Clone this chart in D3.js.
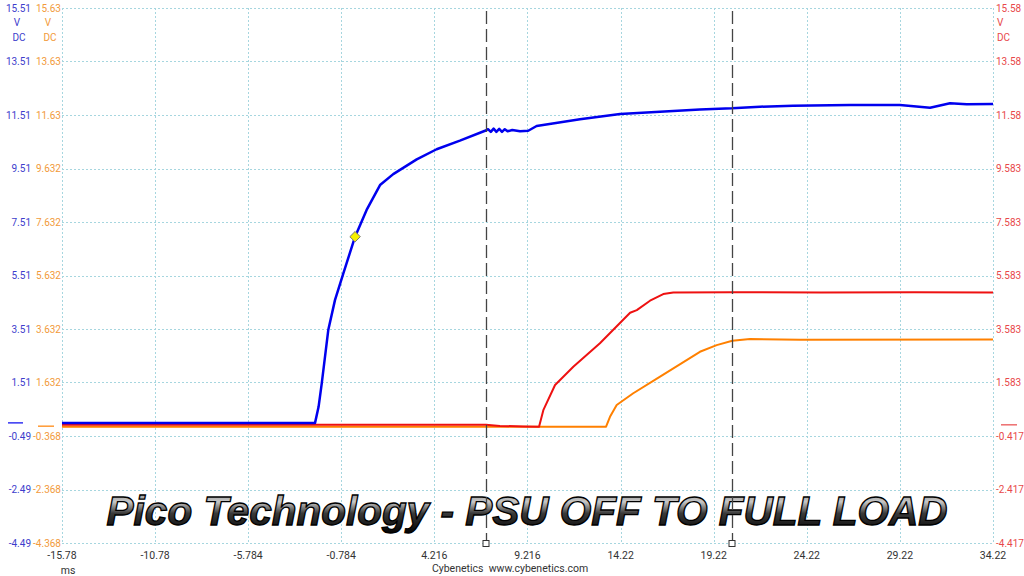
<!DOCTYPE html>
<html>
<head>
<meta charset="utf-8">
<script src="https://cdn.jsdelivr.net/npm/d3@7"></script>
<style>
  html, body { margin: 0; padding: 0; background: #fff; }
  svg { display: block; }
  .lbl { font-family: Roboto, "Noto Sans", sans-serif; }
  .title { font-family: "Liberation Sans", Arial, sans-serif; }
</style>
</head>
<body>
<svg id="chart" width="1024" height="576"></svg>
<script>
// ---------- data ----------
const timeTicks = [-15.78, -10.78, -5.784, -0.784, 4.216, 9.216, 14.22, 19.22, 24.22, 29.22, 34.22];
const timeTickLabels = ["-15.78", "-10.78", "-5.784", "-0.784", "4.216", "9.216", "14.22", "19.22", "24.22", "29.22", "34.22"];

const blueTicks = [15.51, 13.51, 11.51, 9.51, 7.51, 5.51, 3.51, 1.51, -0.49, -2.49, -4.49];
const blueTickLabels = ["15.51", "13.51", "11.51", "9.51", "7.51", "5.51", "3.51", "1.51", "-0.49", "-2.49", "-4.49"];
const orangeTicks = [15.632, 13.632, 11.632, 9.632, 7.632, 5.632, 3.632, 1.632, -0.368, -2.368, -4.368];
const orangeTickLabels = ["15.63", "13.63", "11.63", "9.632", "7.632", "5.632", "3.632", "1.632", "-0.368", "-2.368", "-4.368"];
const redTicks = [15.583, 13.583, 11.583, 9.583, 7.583, 5.583, 3.583, 1.583, -0.417, -2.417, -4.417];
const redTickLabels = ["15.58", "13.58", "11.58", "9.583", "7.583", "5.583", "3.583", "1.583", "-0.417", "-2.417", "-4.417"];

// Channel A (blue) - 12V rail
const blueTime = [-15.78, -2.19, -2.0, -1.83, -1.48, -1.12, -0.67, -0.04, 0.58, 1.30, 2.01, 3.27, 4.34, 5.59, 6.94,
  7.1, 7.25, 7.4, 7.55, 7.7, 7.85, 8.0, 8.15, 8.4, 8.82, 9.26, 9.71, 12.04, 14.19, 18.48, 20.20, 21.71,
  23.48, 26.54, 29.22, 30.84, 31.91, 32.81, 34.22];
const blueVolts = [0, 0, 0.6, 1.48, 3.47, 4.59, 5.59, 6.96, 7.96, 8.89, 9.30, 9.85, 10.23, 10.55, 10.92,
  10.98, 10.88, 11.0, 10.88, 10.99, 10.88, 10.98, 10.9, 10.95, 10.90, 10.92, 11.10, 11.35, 11.55, 11.72, 11.76, 11.82,
  11.86, 11.88, 11.88, 11.78, 11.95, 11.91, 11.92];

// Channel (red) - 5V rail
const redTime = [-15.78, 6.99, 7.74, 9.0, 9.84, 10.07, 10.70, 11.68, 13.11, 14.73, 15.09, 15.80, 16.51, 17.05, 20.2, 25, 30, 34.22];
const redVolts = [0, 0, -0.04, -0.06, -0.07, 0.55, 1.49, 2.17, 3.05, 4.19, 4.29, 4.64, 4.89, 4.95, 4.96, 4.95, 4.96, 4.95];

// Channel (orange) - 3.3V rail
const orangeTime = [-15.78, 13.44, 13.65, 14.01, 14.90, 16.34, 18.48, 19.38, 20.22, 21.17, 23.86, 34.22];
const orangeVolts = [-0.02, -0.02, 0.35, 0.79, 1.23, 1.85, 2.78, 3.03, 3.19, 3.26, 3.23, 3.24];

const cursorTimes = [6.99, 20.22];
const triggerPoint = [{t: -0.04, v: 6.96}];

const titleText = "Pico Technology - PSU OFF TO FULL LOAD";
const footerText = "Cybenetics  www.cybenetics.com";
const timeUnit = "ms";

// ---------- layout ----------
const svg = d3.select("#chart");
const L = 62, R = 993, T = 8, B = 543;

const x = d3.scaleLinear().domain([-15.78, 34.22]).range([L, R]);
const yBlue = d3.scaleLinear().domain([-4.49, 15.51]).range([B, T]);
const yOrange = d3.scaleLinear().domain([-4.368, 15.632]).range([B, T]);
const yRed = d3.scaleLinear().domain([-4.417, 15.583]).range([B, T]);

const colBlue = "#0000ee", colRed = "#ee1111", colOrange = "#ff8000";
const lblBlue = "#3d3dcc", lblOrange = "#f29a3a", lblRed = "#e8484a";
const gridCol = "#a6d6df";

// defs
const defs = svg.append("defs");
const grad = defs.append("linearGradient").attr("id", "tgrad")
  .attr("x1", 0).attr("y1", 0).attr("x2", 0).attr("y2", 1);
grad.append("stop").attr("offset", "0%").attr("stop-color", "#7a7a7a");
grad.append("stop").attr("offset", "30%").attr("stop-color", "#c8c8c8");
grad.append("stop").attr("offset", "55%").attr("stop-color", "#3a3a3a");
grad.append("stop").attr("offset", "100%").attr("stop-color", "#000");

// grid
const grid = svg.append("g");
grid.selectAll("line.h").data(blueTicks).join("line")
  .attr("x1", L).attr("x2", R)
  .attr("y1", d => Math.round(yBlue(d)) + 0.5).attr("y2", d => Math.round(yBlue(d)) + 0.5)
  .attr("stroke", gridCol).attr("stroke-width", 1).attr("stroke-dasharray", "2,2");
grid.selectAll("line.v").data(timeTicks).join("line")
  .attr("x1", d => Math.round(x(d)) + 0.5).attr("x2", d => Math.round(x(d)) + 0.5)
  .attr("y1", T).attr("y2", B)
  .attr("stroke", gridCol).attr("stroke-width", 1).attr("stroke-dasharray", "2,2");

// axes labels
const lab = svg.append("g").attr("class", "lbl").attr("font-size", 10);
lab.selectAll("text.b").data(blueTicks).join("text")
  .attr("x", 31).attr("y", d => yBlue(d)).attr("dy", "0.35em")
  .attr("text-anchor", "end").attr("fill", lblBlue)
  .text((d, i) => blueTickLabels[i]);
lab.selectAll("text.o").data(orangeTicks).join("text")
  .attr("x", 61).attr("y", d => yOrange(d)).attr("dy", "0.35em")
  .attr("text-anchor", "end").attr("fill", lblOrange)
  .text((d, i) => orangeTickLabels[i]);
lab.selectAll("text.r").data(redTicks).join("text")
  .attr("x", 996).attr("y", d => yRed(d)).attr("dy", "0.35em")
  .attr("text-anchor", "start").attr("fill", lblRed)
  .text((d, i) => redTickLabels[i]);

// units
[[17, lblBlue, "middle"], [48, lblOrange, "middle"], [997, lblRed, "start"]].forEach(([ux, c, a]) => {
  lab.append("text").attr("x", ux).attr("y", 22).attr("dy", "0.35em").attr("fill", c).attr("text-anchor", a).text("V");
  lab.append("text").attr("x", a === "start" ? ux : ux + 2).attr("y", 37).attr("dy", "0.35em").attr("fill", c).attr("text-anchor", a).text("DC");
});

// zero markers
svg.append("line").attr("x1", 8).attr("x2", 23).attr("y1", yBlue(0)).attr("y2", yBlue(0)).attr("stroke", colBlue).attr("stroke-width", 1.2);
svg.append("line").attr("x1", 38).attr("x2", 54).attr("y1", yOrange(0)).attr("y2", yOrange(0)).attr("stroke", colOrange).attr("stroke-width", 1.2);
svg.append("line").attr("x1", 1001).attr("x2", 1017).attr("y1", yRed(0)).attr("y2", yRed(0)).attr("stroke", lblRed).attr("stroke-width", 1.2);

// time tick labels
const tl = svg.append("g").attr("class", "lbl").attr("font-size", 10.5).attr("fill", "#333");
tl.selectAll("text").data(timeTicks).join("text")
  .attr("x", d => x(d)).attr("y", 555).attr("dy", "0.35em").attr("text-anchor", "middle")
  .text((d, i) => timeTickLabels[i]);
tl.append("text").attr("x", 68).attr("y", 570).attr("dy", "0.35em").attr("text-anchor", "middle").text(timeUnit);
tl.append("text").attr("x", 510).attr("y", 568).attr("dy", "0.35em").attr("text-anchor", "middle").style("white-space", "pre").text(footerText);

// title
svg.append("text")
  .attr("class", "title")
  .attr("x", 527).attr("y", 525)
  .attr("text-anchor", "middle")
  .attr("font-size", 40.5).attr("font-weight", "bold").attr("font-style", "italic")
  .attr("fill", "url(#tgrad)").attr("stroke", "#000").attr("stroke-width", 1.3)
  .text(titleText);

// traces
function drawTrace(ts, vs, yS, col, w) {
  const pts = ts.map((t, i) => [t, vs[i]]);
  svg.append("path").datum(pts)
    .attr("fill", "none").attr("stroke", col).attr("stroke-width", w).attr("stroke-linejoin", "round")
    .attr("d", d3.line().x(d => x(d[0])).y(d => yS(d[1])));
}
drawTrace(orangeTime, orangeVolts, yOrange, colOrange, 2);
drawTrace(redTime, redVolts, yRed, colRed, 2);
drawTrace(blueTime, blueVolts, yBlue, colBlue, 2.5);

// trigger marker
svg.selectAll("path.trig").data(triggerPoint).join("path")
  .attr("d", d3.symbol().type(d3.symbolDiamond2).size(70))
  .attr("transform", d => `translate(${x(d.t)},${yBlue(d.v)})`)
  .attr("fill", "#f5f000").attr("stroke", "#777").attr("stroke-width", 1);

// cursors
const cur = svg.append("g");
cur.selectAll("line").data(cursorTimes).join("line")
  .attr("x1", d => Math.round(x(d)) + 0.5).attr("x2", d => Math.round(x(d)) + 0.5)
  .attr("y1", 11).attr("y2", B)
  .attr("stroke", "#444").attr("stroke-width", 1.3).attr("stroke-dasharray", "13,5");
cur.selectAll("rect").data(cursorTimes).join("rect")
  .attr("x", d => Math.round(x(d)) - 3).attr("y", B - 2.5).attr("width", 6).attr("height", 6)
  .attr("fill", "#fff").attr("stroke", "#333").attr("stroke-width", 1);
</script>
</body>
</html>
